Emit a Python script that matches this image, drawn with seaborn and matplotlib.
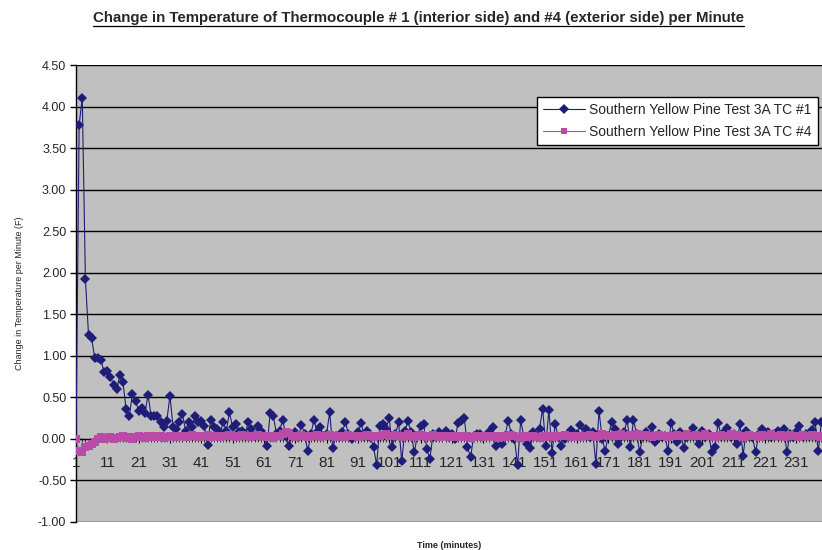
import numpy as np
import pandas as pd
import matplotlib
matplotlib.use("Agg")
import matplotlib.pyplot as plt
from matplotlib import font_manager
from matplotlib.lines import Line2D
import seaborn as sns

# ---- data ----
tc1 = [
    0.00, 3.78, 4.10, 1.93, 1.25, 1.21, 0.97, 0.97, 0.95, 0.80,
    0.82, 0.75, 0.65, 0.60, 0.77, 0.68, 0.36, 0.27, 0.54, 0.46,
    0.34, 0.37, 0.31, 0.53, 0.27, 0.28, 0.28, 0.20, 0.14, 0.22,
    0.52, 0.14, 0.12, 0.20, 0.30, 0.10, 0.20, 0.14, 0.28, 0.20,
    0.22, 0.16, -0.07, 0.23, 0.14, 0.12, 0.06, 0.20, 0.10, 0.32,
    0.14, 0.18, 0.08, 0.10, 0.06, 0.20, 0.12, 0.04, 0.16, 0.10,
    0.04, -0.09, 0.31, 0.28, 0.06, 0.10, 0.23, 0.04, -0.09, 0.05,
    0.08, 0.02, 0.17, 0.06, -0.15, 0.06, 0.23, 0.08, 0.14, 0.04,
    0.06, 0.32, -0.11, 0.04, 0.02, 0.08, 0.20, 0.06, 0.00, 0.04,
    0.08, 0.19, 0.04, 0.10, 0.02, -0.10, -0.31, 0.16, 0.18, 0.12,
    0.25, -0.10, 0.06, 0.20, -0.27, 0.10, 0.21, 0.08, -0.16, 0.04,
    0.15, 0.18, -0.12, -0.24, 0.06, 0.02, 0.08, 0.04, 0.10, 0.02,
    0.06, 0.00, 0.19, 0.22, 0.25, -0.10, -0.22, 0.04, 0.06, 0.06,
    0.02, 0.04, 0.08, 0.14, -0.09, 0.02, -0.06, 0.04, 0.22, 0.06,
    0.00, -0.32, 0.23, 0.02, -0.06, -0.11, 0.08, 0.04, 0.12, 0.36,
    -0.08, 0.35, -0.17, 0.18, 0.02, -0.08, 0.00, 0.06, 0.11, 0.04,
    0.06, 0.17, 0.04, 0.12, 0.02, 0.08, -0.30, 0.34, 0.00, -0.14,
    0.04, 0.20, 0.12, -0.06, 0.02, 0.08, 0.23, -0.10, 0.23, 0.06,
    -0.16, 0.04, 0.08, 0.02, 0.14, -0.04, 0.06, 0.02, 0.04, -0.14,
    0.19, 0.06, -0.04, 0.08, -0.11, 0.02, 0.06, 0.13, 0.04, -0.06,
    0.10, 0.02, 0.06, -0.16, -0.10, 0.19, 0.04, 0.08, 0.13, 0.02,
    0.06, -0.06, 0.18, -0.20, 0.10, 0.04, 0.02, -0.16, 0.06, 0.12,
    0.04, 0.08, 0.02, 0.06, 0.10, 0.04, 0.12, -0.16, 0.06, 0.02,
    0.08, 0.16, 0.02, 0.06, 0.04, 0.11, 0.20, -0.15, 0.20,
]

tc4 = [
    0.00, -0.15, -0.16, -0.10, -0.08, -0.06, -0.04, 0.00, 0.02, 0.00,
    0.01, 0.02, 0.00, 0.01, 0.02, 0.03, 0.01, 0.02, 0.00, 0.02,
    0.03, 0.02, 0.01, 0.03, 0.02, 0.04, 0.02, 0.03, 0.01, 0.02,
    0.03, 0.04, 0.02, 0.03, 0.04, 0.02, 0.03, 0.05, 0.03, 0.02,
    0.04, 0.03, 0.05, 0.02, 0.04, 0.03, 0.02, 0.04, 0.03, 0.05,
    0.03, 0.02, 0.04, 0.05, 0.03, 0.04, 0.02, 0.03, 0.05, 0.03,
    0.02, 0.04, 0.03, 0.01, 0.03, 0.04, 0.06, 0.08, 0.07, 0.04,
    0.02, 0.03, 0.05, 0.03, 0.02, 0.04, 0.03, 0.05, 0.02, 0.04,
    0.03, 0.05, 0.03, 0.02, 0.04, 0.03, 0.02, 0.05, 0.04, 0.03,
    0.02, 0.04, 0.03, 0.05, 0.03, 0.02, 0.04, 0.03, 0.05, 0.06,
    0.04, 0.03, 0.05, 0.04, 0.02, 0.04, 0.06, 0.04, 0.02, 0.03,
    0.05, 0.04, 0.02, 0.03, 0.05, 0.03, 0.02, 0.04, 0.03, 0.02,
    0.03, 0.02, 0.04, 0.03, 0.02, 0.03, 0.01, 0.02, 0.03, 0.04,
    0.02, 0.03, 0.04, 0.02, 0.03, 0.01, 0.03, 0.02, 0.04, 0.05,
    0.03, 0.02, 0.01, 0.03, 0.02, 0.04, 0.03, 0.02, 0.01, 0.03,
    0.02, 0.03, 0.04, 0.02, 0.03, 0.04, 0.05, 0.03, 0.02, 0.04,
    0.03, 0.02, 0.04, 0.03, 0.05, 0.03, 0.02, 0.04, 0.06, 0.05,
    0.03, 0.04, 0.05, 0.03, 0.06, 0.04, 0.03, 0.05, 0.04, 0.06,
    0.04, 0.03, 0.05, 0.04, 0.02, 0.04, 0.05, 0.03, 0.04, 0.02,
    0.04, 0.03, 0.05, 0.03, 0.04, 0.06, 0.04, 0.03, 0.05, 0.03,
    0.04, 0.06, 0.03, 0.04, 0.02, 0.04, 0.05, 0.03, 0.04, 0.06,
    0.03, 0.05, 0.04, 0.02, 0.04, 0.05, 0.03, 0.04, 0.02, 0.05,
    0.03, 0.04, 0.06, 0.04, 0.03, 0.05, 0.02, 0.04, 0.05, 0.03,
    0.04, 0.02, 0.05, 0.03, 0.04, 0.05, 0.03, 0.04, 0.02,
]

minutes = list(range(1, len(tc1) + 1))
name1 = "Southern Yellow Pine Test 3A TC #1"
name4 = "Southern Yellow Pine Test 3A TC #4"
yticks = [-1.0, -0.5, 0.0, 0.5, 1.0, 1.5, 2.0, 2.5, 3.0, 3.5, 4.0, 4.5]
xticks = list(range(1, 240, 10))

df = pd.DataFrame({
    "Minute": minutes * 2,
    "Change": tc1 + tc4,
    "Series": [name1] * len(tc1) + [name4] * len(tc4),
})

# ---- style ----
sns.set_theme(style="white")
names = {f.name for f in font_manager.fontManager.ttflist}
base_font = "Liberation Sans" if "Liberation Sans" in names else "DejaVu Sans"
narrow_font = "Liberation Sans Narrow" if "Liberation Sans Narrow" in names else base_font
plt.rcParams["font.family"] = [base_font, "DejaVu Sans"]

navy = "#1E1E78"
magenta = "#B94BA6"

fig = plt.figure(figsize=(8.22, 5.5), dpi=100)
ax = fig.add_axes([76 / 822, 1 - 522 / 550, 1 - 76 / 822, (522 - 65) / 550])
ax.set_facecolor("#C0C0C0")

# TC #1 first, TC #4 on top (as in the reference)
sns.lineplot(data=df[df["Series"] == name1], x="Minute", y="Change",
             color=navy, marker="D", markersize=5, markeredgewidth=0,
             linewidth=0.8, ax=ax, zorder=3, label=name1)
sns.lineplot(data=df[df["Series"] == name4], x="Minute", y="Change",
             color=magenta, marker="s", markersize=6, markeredgewidth=0,
             linewidth=0.8, ax=ax, zorder=4, label=name4)

ax.set_ylim(-1.0, 4.5)
ax.set_xlim(1, 239.2)
ax.set_yticks(yticks)
ax.set_yticklabels([f"{v:.2f}" for v in yticks], fontsize=9)
ax.set_xticks(xticks)
ax.set_xticklabels([str(v) for v in xticks], fontsize=9)
ax.set_xticks(minutes, minor=True)
ax.tick_params(axis="y", which="major", direction="out", length=4, width=1,
               color="black", pad=3, left=True)
ax.tick_params(axis="x", which="major", direction="out", length=3, width=0.8,
               color="black", pad=9, bottom=True)
ax.tick_params(axis="x", which="minor", direction="out", length=2, width=0.5,
               color="black", bottom=True)

# horizontal gridlines in black
ax.grid(axis="y", color="black", linewidth=1)
ax.grid(axis="x", visible=False)
ax.set_axisbelow(True)

for s in ["top", "right"]:
    ax.spines[s].set_visible(False)
ax.spines["left"].set_color("black")
ax.spines["left"].set_linewidth(1)
ax.spines["bottom"].set_position(("data", 0))
ax.spines["bottom"].set_color("black")
ax.spines["bottom"].set_linewidth(0.8)
ax.spines["bottom"].set_zorder(2)

ax.set_xlabel("")
ax.set_ylabel("")
fig.text(20 / 822, 1 - 293 / 550, "Change in Temperature per Minute (F)",
         rotation=90, ha="center", va="center", fontsize=6.5)
fig.text(449 / 822, 1 - 545 / 550, "Time (minutes)", ha="center", va="center",
         fontsize=6.5, fontweight="bold")

# legend
handles = [
    Line2D([], [], color=navy, marker="D", markersize=5, markeredgewidth=0, linewidth=0.8),
    Line2D([], [], color=magenta, marker="s", markersize=5, markeredgewidth=0, linewidth=0.8),
]
ax.legend(handles, [name1, name4], loc="upper right",
          bbox_to_anchor=(818 / 822, 1 - 97 / 550), bbox_transform=fig.transFigure,
          frameon=True, fancybox=False, framealpha=1, edgecolor="black",
          facecolor="white", fontsize=10, handlelength=3.0, handletextpad=0.3,
          borderpad=0.45, labelspacing=0.55, borderaxespad=0)

# underlined title
title = fig.text(418 / 822, 1 - 18 / 550,
                 "Change in Temperature of Thermocouple # 1 (interior side) and #4 (exterior side) per Minute",
                 ha="center", va="center", fontsize=10.8, fontweight="bold",
                 family=[narrow_font, "DejaVu Sans"])
fig.canvas.draw()
bb = title.get_window_extent().transformed(fig.transFigure.inverted())
fig.add_artist(Line2D([bb.x0, bb.x1], [bb.y0 - 0.002, bb.y0 - 0.002],
                      transform=fig.transFigure, color="black", linewidth=0.9))

fig.savefig("out.png", dpi=100)
